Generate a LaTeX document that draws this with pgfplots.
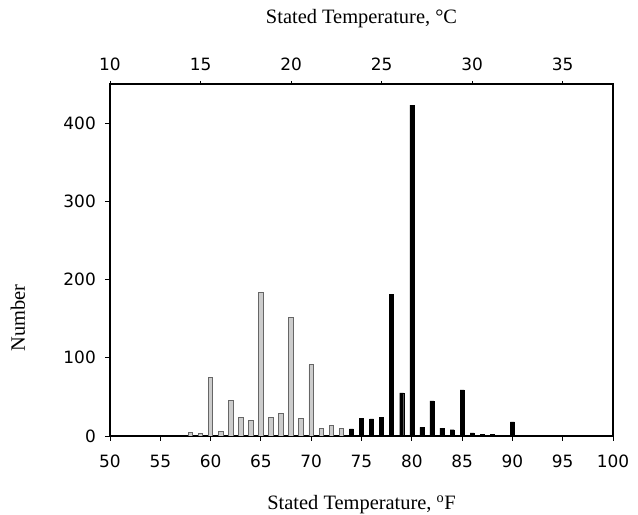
\documentclass[border=0pt]{standalone}
\usepackage{fontspec}
\setmainfont{Liberation Serif}
\newfontfamily\tickfont{DejaVu Sans}
\usepackage{pgfplots}
\pgfplotsset{compat=1.18}

% stated temperatures (deg F) and number of responses
\pgfplotstableread{
F   n
58  4
59  3
60  75
61  6
62  45
63  24
64  20
65  183
66  24
67  29
68  151
69  23
70  91
71  10
72  13
73  10
}\coolset
\pgfplotstableread{
F   n
74  9
75  23
76  22
77  24
78  181
79  55
80  423
81  11
82  45
83  10
84  8
85  59
86  4
87  2
88  2
90  18
92  1
95  1
98  1
}\warmset

\begin{document}
\begin{tikzpicture}
\pgfplotsset{
  common/.style={
    scale only axis, width=503bp, height=352bp,
    ymin=0, ymax=450,
    tick align=outside,
    major tick length=5bp,
    every tick/.style={black, line width=0.9bp},
    axis line style={line width=1.3bp},
    /pgf/number format/assume math mode=true,
    tick label style={font=\fontsize{17}{17}\selectfont\tickfont},
    label style={font=\fontsize{20.5}{20.5}\selectfont},
  }
}
\begin{axis}[
  common,
  name=main,
  xmin=50, xmax=100,
  xtick={50,55,...,100}, ytick={0,100,...,400},
  xtick pos=bottom, ytick pos=left,
  xticklabel style={anchor=base, yshift=-27bp},
  yticklabel style={anchor=east, inner sep=0pt, xshift=-9bp},
  xlabel={Stated Temperature, \textsuperscript{o}F},
  xlabel style={at={(axis description cs:0.5,0)}, anchor=base, yshift=-74bp},
  ylabel={Number},
  ylabel style={at={(axis description cs:-0.183,0.335)}, anchor=center},
]
\addplot[ybar, bar shift=0pt, bar width=4.5bp, fill=gray!40, draw=black!60, line width=0.8bp]
  table[x=F, y=n] {\coolset};
\addplot[ybar, bar shift=0pt, bar width=4bp, fill=black, draw=black]
  table[x=F, y=n] {\warmset};
\end{axis}
% Celsius scale along the top edge
\begin{axis}[
  common,
  xmin=10, xmax=37.7778,
  axis x line*=top, axis y line=none,
  xtick={10,15,...,35},
  major tick length=3bp,
  xticklabel style={anchor=base, yshift=10bp},
  xlabel={Stated Temperature, °C},
  xlabel style={at={(axis description cs:0.5,1)}, anchor=base, yshift=60bp},
]
\addplot[draw=none] coordinates {(10,0)};
\end{axis}
\pgfresetboundingbox
\path[use as bounding box] ([shift={(-110bp,-79bp)}]main.south west)
  rectangle ([shift={(25bp,84bp)}]main.north east);
\end{tikzpicture}
\end{document}
